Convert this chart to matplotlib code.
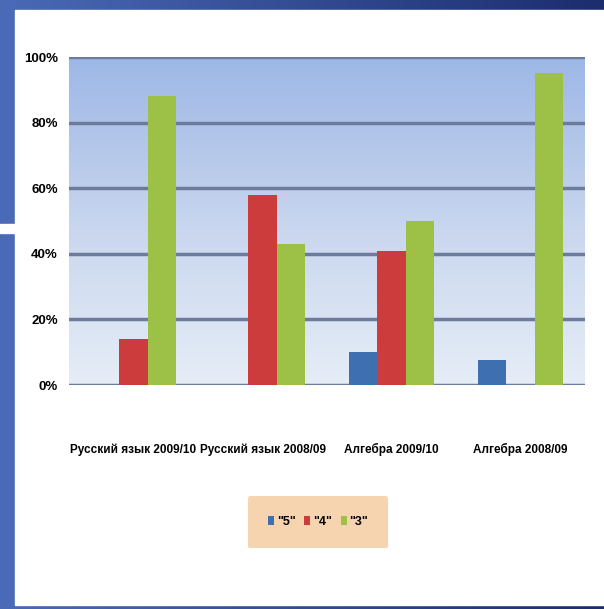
import numpy as np
import matplotlib
matplotlib.use('Agg')
import matplotlib.pyplot as plt
from matplotlib.colors import LinearSegmentedColormap
from matplotlib.patches import Rectangle

# ---- data ----
categories = ["Русский язык 2009/10", "Русский язык 2008/09", "Алгебра 2009/10", "Алгебра 2008/09"]
series_names = ['"5"', '"4"', '"3"']
grade5 = [0, 0, 10, 7.5]
grade4 = [14, 58, 41, 0]
grade3 = [88, 43, 50, 95]
yticks = [0, 20, 40, 60, 80, 100]
ytick_labels = ['0%', '20%', '40%', '60%', '80%', '100%']

colors = ['#3e6fae', '#cc3c3c', '#9dc146']
FONT = ['Liberation Sans', 'DejaVu Sans']

W, H = 604, 609
fig = plt.figure(figsize=(W / 100, H / 100), dpi=100)

# slide background
bg = fig.add_axes([0, 0, 1, 1])
bg.set_axis_off()
bg.set_xlim(0, 1)
bg.set_ylim(0, 1)
grad = np.linspace(0, 1, 256).reshape(1, -1)
cmap_bg = LinearSegmentedColormap.from_list('bg', ['#4a6ab6', '#1c2d6e'])
bg.imshow(grad, extent=[0, 1, 0, 1], aspect='auto', cmap=cmap_bg, zorder=0)
bg.add_patch(Rectangle((0, 0), 15 / W, 1, color='#4a6ab8', zorder=1))
bg.add_patch(Rectangle((15 / W, 1 - 605 / H), (W - 15) / W, (605 - 10) / H,
                       color='white', zorder=2))
bg.add_patch(Rectangle((0, 1 - 233 / H), 15 / W, 9 / H, color='white', zorder=2))

# chart axes
ax = fig.add_axes([69 / W, 1 - 385 / H, 516 / W, 328 / H])
x = np.arange(len(categories))
w = 0.222
ax.set_xlim(-0.5, len(categories) - 0.5)
ax.set_ylim(0, 100)

cmap_plot = LinearSegmentedColormap.from_list('pl', ['#e6edf7', '#c7d5ee', '#9db7e6'])
gy = np.linspace(0, 1, 256).reshape(-1, 1)
ax.imshow(gy, extent=[-0.5, len(categories) - 0.5, 0, 100], origin='lower',
          aspect='auto', cmap=cmap_plot, zorder=0)

for yv in yticks:
    ax.axhline(yv, color='#6d7c9c', lw=2.5, zorder=1)

for i, (vals, c, name) in enumerate(zip([grade5, grade4, grade3], colors, series_names)):
    ax.bar(x + (i - 1) * w, vals, width=w, color=c, label=name, zorder=3)

for s in ax.spines.values():
    s.set_visible(False)
ax.set_yticks(yticks)
ax.set_yticklabels(ytick_labels, fontsize=9.5, fontweight='bold', family=FONT)
ax.set_xticks(x)
ax.set_xticklabels(categories, fontsize=8.5, fontweight='bold', family=FONT)
ax.tick_params(axis='y', length=0, pad=8)
ax.tick_params(axis='x', length=0, pad=42)

leg = fig.legend(loc='center', bbox_to_anchor=(318 / W, 1 - 522 / H), ncol=3,
                 frameon=True, facecolor='#f7d4b0', edgecolor='none', framealpha=1,
                 handlelength=0.5, handleheight=0.7, handletextpad=0.2,
                 columnspacing=0.7, borderpad=1.6,
                 prop={'family': FONT, 'weight': 'bold', 'size': 9})

fig.savefig('out.png', dpi=100)
